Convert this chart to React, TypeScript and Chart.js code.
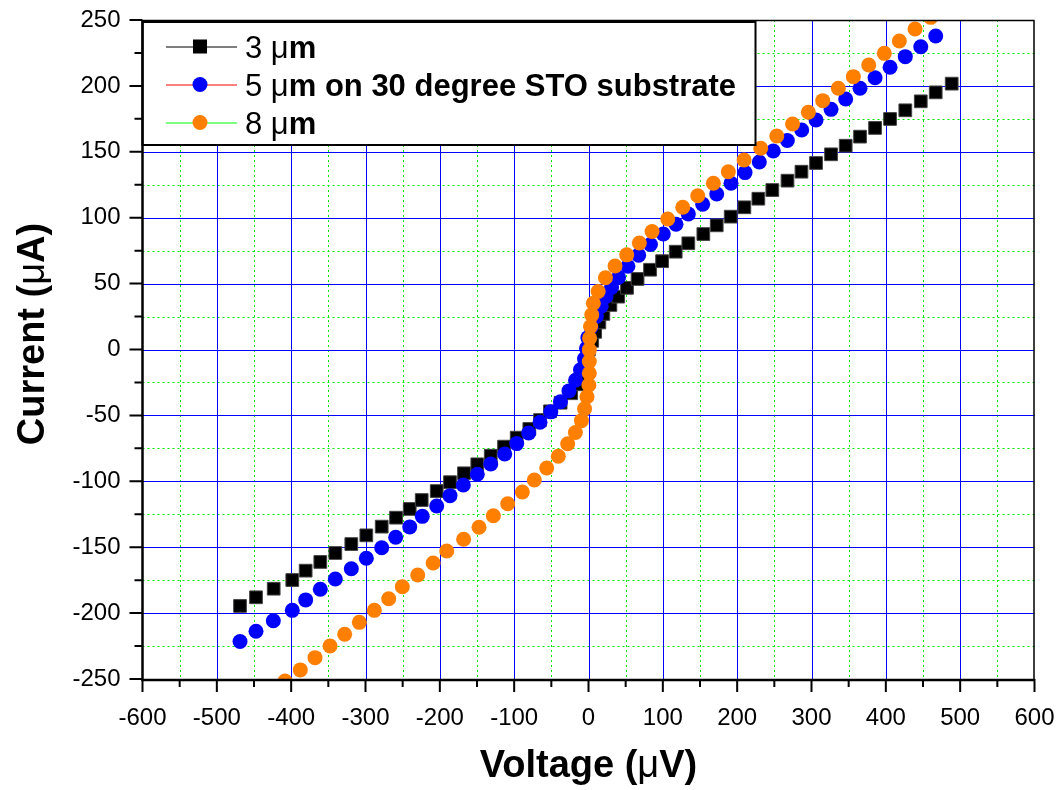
import React, { useEffect, useRef } from 'react';
import { Chart, registerables } from 'chart.js';

Chart.register(...registerables);

// ---------------- data ----------------
const SERIES_LABELS = ['3 μm', '5 μm on 30 degree STO substrate', '8 μm'];
const SERIES_COLORS = ['#000000', '#0000ff', '#ff8000'];
const LEGEND_LINE_COLORS = ['#000000', '#ff0000', '#00ff00'];

// 3 µm (black squares): voltage (µV) and current (µA)
const V_3UM = [-468.8, -447.3, -423.5, -398.5, -380.5, -360.8, -340.6, -319.1, -298.9, -278.2, -258.9, -240.5, -224.4, -204.2, -186.3, -167.5, -149.6, -131.5, -113.6, -96.6, -79.6, -65.2, -51.8, -37.5, -23.3, -11.4, -6, -3, -1.5, 0.5, 5, 9, 14.6, 20, 29.5, 40, 51.8, 66, 82.8, 99, 117.3, 134.3, 154.5, 172.5, 191.3, 209.7, 228.5, 247.3, 267.7, 286.5, 306.1, 326.3, 346, 365.3, 385.5, 405.7, 426.2, 447, 467.1, 488.6];
const I_3UM = [-194.6, -188.0, -181.5, -174.9, -167.8, -161.2, -154.4, -147.6, -141.0, -134.4, -127.6, -121.0, -114.2, -107.4, -100.7, -93.9, -87.1, -80.6, -73.7, -66.9, -60.3, -53.5, -46.9, -40.4, -33.2, -26.4, -19.8, -13.2, -6.6, 0, 6.6, 13.4, 20.5, 27, 33.8, 40.1, 46.8, 53.5, 60.5, 67, 74.2, 80.6, 87.6, 94.2, 100.8, 107.9, 114.4, 121.0, 128.1, 134.9, 141.5, 148.1, 154.6, 161.5, 168.1, 174.9, 181.5, 188.3, 195.1, 201.7];

// 5 µm on 30 degree STO substrate (blue circles)
const V_5UM = [-468.8, -447.3, -424, -398.5, -380.5, -360.8, -340.6, -319.1, -298.9, -278.2, -259.4, -240.5, -223.6, -204.2, -186.3, -168.4, -149.6, -131.5, -112.7, -96.6, -80.5, -65.2, -50.7, -37.7, -26.3, -17.4, -10.8, -5.4, -2.7, -0.8, 3.5, 10.5, 17, 23.5, 31, 40.5, 53, 67.5, 83.3, 100.6, 117.7, 134.3, 153.6, 172.5, 191.7, 210.6, 229.8, 248.6, 267.5, 286.8, 306.1, 326.3, 346, 365.3, 385.5, 405.7, 426.2, 447, 467.1];
const I_5UM = [-221.6, -213.8, -205.8, -197.9, -190.0, -181.9, -174.1, -166.3, -158.4, -150.4, -142.5, -134.6, -126.6, -118.7, -110.9, -102.8, -94.7, -86.9, -79.3, -71.4, -63.4, -55.2, -47.3, -39.6, -31.4, -23.3, -15.4, -7.1, 1, 9, 17, 25, 32.8, 40.3, 47, 54.8, 63.2, 71.6, 79.7, 87.6, 95, 102.8, 110.2, 118, 126.1, 134.2, 142.3, 150.6, 158.6, 166.5, 174.1, 182.2, 190.1, 198.2, 206.2, 214.1, 222.2, 229.7, 237.9];

// 8 µm (orange circles)
const V_8UM = [-408.3, -387.7, -367.9, -347.7, -328, -308.3, -288.1, -268.8, -250.5, -229.7, -209, -190.7, -168, -147.3, -128, -108.7, -89, -72.9, -56.2, -40.6, -28, -17.6, -9.5, -5.3, -2, 0.5, 1.1, 1.1, 1.1, 1.5, 2.8, 4.4, 6.5, 13, 22.8, 35.7, 51.4, 68.4, 85.5, 106.6, 126.8, 147, 168, 188.1, 209.3, 231.7, 253.3, 274.5, 295.8, 315.1, 336.1, 356.3, 377, 398, 418.2, 439.3, 460.4];
const I_8UM = [-251.5, -243.1, -233.8, -225.0, -216.1, -207.0, -197.9, -189.1, -180.0, -171.1, -162, -152.9, -144, -134.9, -126.1, -117, -108.1, -99, -89.9, -81, -71.5, -63, -54, -45, -35.8, -26.9, -18, -9.1, -0.3, 8.6, 17.4, 26.3, 35.1, 44, 54.4, 63.3, 71.8, 80.8, 89.5, 99, 107.9, 116.7, 126.1, 134.9, 143.8, 152.7, 162, 171.1, 180, 188.8, 198.2, 207, 215.9, 224.7, 234.1, 243.2, 252];

// ticks
const X_TICKS = [-600, -500, -400, -300, -200, -100, 0, 100, 200, 300, 400, 500, 600];
const X_MINOR = [-550, -450, -350, -250, -150, -50, 50, 150, 250, 350, 450, 550];
const Y_TICKS = [-250, -200, -150, -100, -50, 0, 50, 100, 150, 200, 250];
const Y_MINOR = [-225, -175, -125, -75, -25, 25, 75, 125, 175, 225];

const X_TITLE = ['Voltage (', 'μ', 'V)'];
const Y_TITLE = ['Current (', 'μ', 'A)'];

const FONT = '"Liberation Sans", Arial, Helvetica, sans-serif';

const toPoints = (xs: number[], ys: number[]) => xs.map((v, i) => ({ x: v, y: ys[i] }));

function drawMixed(ctx: CanvasRenderingContext2D, parts: string[], fonts: string[], x: number, y: number) {
  let total = 0;
  const widths = parts.map((p, i) => {
    ctx.font = fonts[i];
    const w = ctx.measureText(p).width;
    total += w;
    return w;
  });
  let cx = x - total / 2;
  ctx.textAlign = 'left';
  parts.forEach((p, i) => {
    ctx.font = fonts[i];
    ctx.fillText(p, cx, y);
    cx += widths[i];
  });
}

const framePlugin = {
  id: 'framePlugin',
  beforeDatasetsDraw(chart: any) {
    const { ctx, chartArea: a, scales } = chart;
    const xs = scales.x;
    const ys = scales.y;
    ctx.save();
    ctx.lineWidth = 1;
    ctx.strokeStyle = '#00e600';
    ctx.setLineDash([2, 3]);
    X_MINOR.forEach((v) => {
      const px = Math.round(xs.getPixelForValue(v)) + 0.5;
      ctx.beginPath(); ctx.moveTo(px, a.top); ctx.lineTo(px, a.bottom); ctx.stroke();
    });
    Y_MINOR.forEach((v) => {
      const py = Math.round(ys.getPixelForValue(v)) + 0.5;
      ctx.beginPath(); ctx.moveTo(a.left, py); ctx.lineTo(a.right, py); ctx.stroke();
    });
    ctx.setLineDash([]);
    ctx.strokeStyle = '#0000ff';
    X_TICKS.slice(1, -1).forEach((v) => {
      const px = Math.round(xs.getPixelForValue(v)) + 0.5;
      ctx.beginPath(); ctx.moveTo(px, a.top); ctx.lineTo(px, a.bottom); ctx.stroke();
    });
    Y_TICKS.slice(1, -1).forEach((v) => {
      const py = Math.round(ys.getPixelForValue(v)) + 0.5;
      ctx.beginPath(); ctx.moveTo(a.left, py); ctx.lineTo(a.right, py); ctx.stroke();
    });
    ctx.restore();
  },
  afterDatasetsDraw(chart: any) {
    const { ctx, chartArea: a, scales } = chart;
    const xs = scales.x;
    const ys = scales.y;
    ctx.save();

    // legend box
    const lx = a.left, ly = 22, lw = 613, lh = 123;
    ctx.fillStyle = '#ffffff';
    ctx.fillRect(lx, ly, lw, lh);
    ctx.strokeStyle = '#000';
    ctx.lineWidth = 2;
    ctx.strokeRect(lx, ly, lw, lh);
    SERIES_LABELS.forEach((label, i) => {
      const cy = 46.5 + i * 38;
      ctx.strokeStyle = LEGEND_LINE_COLORS[i];
      ctx.lineWidth = 1;
      ctx.beginPath(); ctx.moveTo(166, cy + 0.5); ctx.lineTo(237, cy + 0.5); ctx.stroke();
      ctx.fillStyle = SERIES_COLORS[i];
      if (i === 0) {
        ctx.fillRect(193, cy - 7, 14, 14);
      } else {
        ctx.beginPath(); ctx.arc(200, cy, 7.5, 0, Math.PI * 2); ctx.fill();
      }
      const k = label.indexOf('μ') + 1;
      const parts = [label.slice(0, k), label.slice(k)];
      const fonts = [`31px ${FONT}`, `bold 31px ${FONT}`];
      ctx.fillStyle = '#000';
      ctx.textBaseline = 'alphabetic';
      ctx.textAlign = 'left';
      let tx = 245;
      parts.forEach((p, j) => {
        ctx.font = fonts[j];
        ctx.fillText(p, tx, cy + 11);
        tx += ctx.measureText(p).width;
      });
    });

    // frame
    ctx.strokeStyle = '#000';
    ctx.lineWidth = 1.5;
    ctx.beginPath();
    ctx.moveTo(a.left, a.top + 0.5); ctx.lineTo(a.right, a.top + 0.5);
    ctx.moveTo(a.right - 0.5, a.top); ctx.lineTo(a.right - 0.5, a.bottom);
    ctx.stroke();
    ctx.lineWidth = 2.5;
    ctx.beginPath();
    ctx.moveTo(a.left, a.top); ctx.lineTo(a.left, a.bottom + 1);
    ctx.lineTo(a.right, a.bottom + 1);
    ctx.stroke();

    // ticks
    ctx.lineWidth = 2;
    ctx.beginPath();
    X_TICKS.forEach((v) => {
      const px = xs.getPixelForValue(v);
      ctx.moveTo(px, a.bottom); ctx.lineTo(px, a.bottom + 13);
    });
    X_MINOR.forEach((v) => {
      const px = xs.getPixelForValue(v);
      ctx.moveTo(px, a.bottom); ctx.lineTo(px, a.bottom + 8);
    });
    Y_TICKS.forEach((v) => {
      const py = ys.getPixelForValue(v);
      ctx.moveTo(a.left, py); ctx.lineTo(a.left - 13, py);
    });
    Y_MINOR.forEach((v) => {
      const py = ys.getPixelForValue(v);
      ctx.moveTo(a.left, py); ctx.lineTo(a.left - 8, py);
    });
    ctx.stroke();

    // axis titles
    ctx.fillStyle = '#000';
    ctx.textBaseline = 'alphabetic';
    const tf = [`bold 38px ${FONT}`, `38px ${FONT}`, `bold 38px ${FONT}`];
    drawMixed(ctx, X_TITLE, tf, (a.left + a.right) / 2, 777);
    ctx.translate(44, 334);
    ctx.rotate(-Math.PI / 2);
    drawMixed(ctx, Y_TITLE, tf, 0, 0);
    ctx.restore();
  },
};

export default function App() {
  const ref = useRef<HTMLCanvasElement>(null);
  useEffect(() => {
    document.body.style.margin = '0';
    const canvas = ref.current!;
    const chart = new Chart(canvas, {
      type: 'scatter',
      data: {
        datasets: [
          {
            label: SERIES_LABELS[0],
            data: toPoints(V_3UM, I_3UM),
            pointStyle: 'rect',
            pointRadius: 9,
            backgroundColor: SERIES_COLORS[0],
            borderColor: '#444',
            borderWidth: 1,
            showLine: false,
            order: 3,
            clip: 0,
          },
          {
            label: SERIES_LABELS[1],
            data: toPoints(V_5UM, I_5UM),
            pointStyle: 'circle',
            pointRadius: 7.5,
            backgroundColor: SERIES_COLORS[1],
            borderColor: SERIES_COLORS[1],
            borderWidth: 0,
            showLine: false,
            order: 2,
            clip: 0,
          },
          {
            label: SERIES_LABELS[2],
            data: toPoints(V_8UM, I_8UM),
            pointStyle: 'circle',
            pointRadius: 7.5,
            backgroundColor: SERIES_COLORS[2],
            borderColor: SERIES_COLORS[2],
            borderWidth: 0,
            showLine: false,
            order: 1,
            clip: 0,
          },
        ] as any,
      },
      options: {
        responsive: false,
        animation: false,
        devicePixelRatio: 1,
        layout: { padding: { left: 0, right: 27.5, top: 20, bottom: 0 } },
        plugins: {
          legend: { display: false },
          tooltip: { enabled: false },
          title: { display: false },
        },
        scales: {
          x: {
            type: 'linear',
            min: -600,
            max: 600,
            grid: { display: false },
            border: { display: false },
            afterBuildTicks: (s: any) => { s.ticks = X_TICKS.map((v) => ({ value: v })); },
            afterFit: (s: any) => { s.height = 111; s.paddingLeft = 0; s.paddingRight = 0; },
            ticks: {
              autoSkip: false,
              maxRotation: 0,
              padding: 17,
              color: '#000',
              font: { family: FONT, size: 24 },
            },
          },
          y: {
            type: 'linear',
            min: -250,
            max: 250,
            grid: { display: false },
            border: { display: false },
            afterBuildTicks: (s: any) => { s.ticks = Y_TICKS.map((v) => ({ value: v })); },
            afterFit: (s: any) => { s.width = 142.5; s.paddingTop = 0; s.paddingBottom = 0; },
            ticks: {
              autoSkip: false,
              padding: 14,
              color: '#000',
              font: { family: FONT, size: 24 },
            },
          },
        },
      } as any,
      plugins: [framePlugin],
    });
    return () => chart.destroy();
  }, []);
  return <canvas ref={ref} width={1062} height={790} style={{ display: 'block', width: 1062, height: 790 }} />;
}
